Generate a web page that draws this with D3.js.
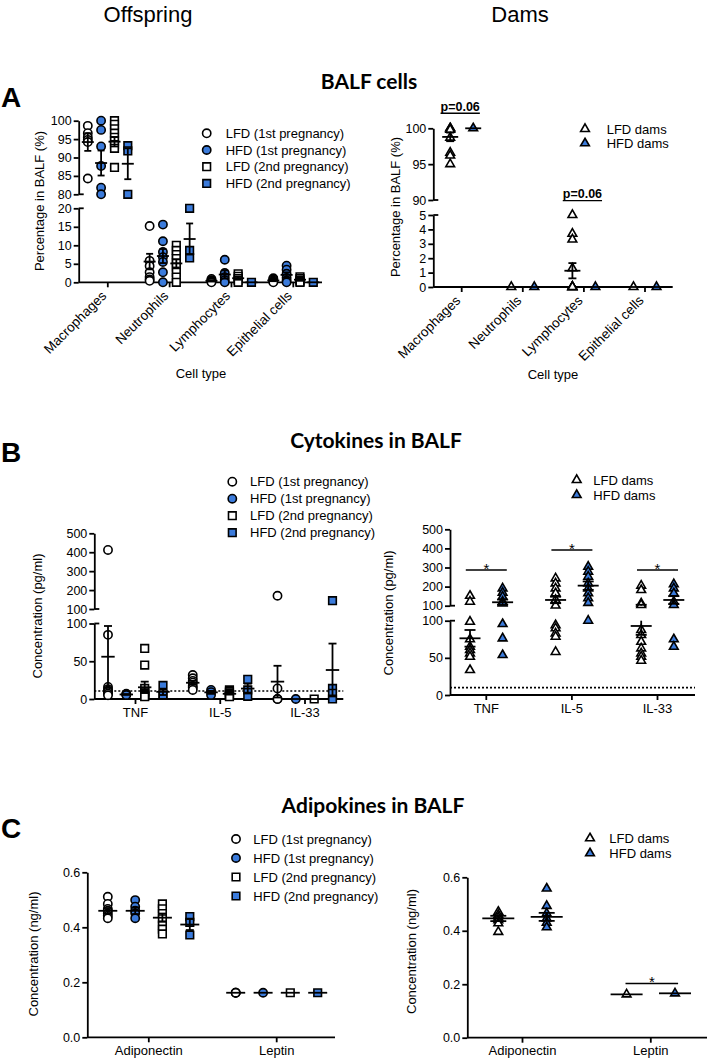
<!DOCTYPE html>
<html><head><meta charset="utf-8">
<script src="https://cdn.jsdelivr.net/npm/d3@7"></script>
<style>
body{margin:0;background:#fff}
svg{display:block}
text{font-family:"Liberation Sans",Arial,sans-serif;fill:#000}
</style>
</head><body>
<svg id="c" width="708" height="1059"></svg>
<script>
// ================= DATA =================
const columnHeaders = ["Offspring", "Dams"];
const panelLetters = ["A", "B", "C"];
const panelTitles = ["BALF cells", "Cytokines in BALF", "Adipokines in BALF"];
const offspringGroups = ["LFD (1st pregnancy)", "HFD (1st pregnancy)", "LFD (2nd pregnancy)", "HFD (2nd pregnancy)"];
const damGroups = ["LFD dams", "HFD dams"];
const cellTypes = ["Macrophages", "Neutrophils", "Lymphocytes", "Epithelial cells"];
const cytokines = ["TNF", "IL-5", "IL-33"];
const adipokines = ["Adiponectin", "Leptin"];

// tick labels
const cellOffTicksLow = [0, 5, 10, 15, 20];
const cellOffTicksHigh = [80, 85, 90, 95, 100];
const cellDamTicksLow = [0, 1, 2, 3, 4, 5];
const cellDamTicksHigh = [90, 95, 100];
const cytoTicksLow = [0, 50, 100];
const cytoTicksHigh = [100, 200, 300, 400, 500];
const adipoTicks = [0.0, 0.2, 0.4, 0.6];

// Panel A – BALF cells, offspring (%), per cell type
const cellsOffLFD1 = [[98.6, 96.6, 95.5, 94.8, 94.2, 84.3], [15.2, 5.8, 4.4, 2.7, 1.4, 0.8, 0.4], [0.9, 0.6, 0.4, 0.2, 0], [1.1, 0.8, 0.5, 0.2, 0]];
const cellsOffLFD1Mean = [94.2, 5.6, 0.4, 0.5];
const cellsOffLFD1Sem = [2.4, 2.1, 0.2, 0.2];
const cellsOffHFD1 = [[100, 97.5, 93, 87.7, 81.8, 80], [15.6, 11.1, 8.2, 6.8, 5.5, 2.7, 0], [6.1, 2.5, 1.4, 0.6, 0], [4.5, 3.4, 2.3, 1.2, 0.5, 0]];
const cellsOffHFD1Mean = [88.5, 7.1, 2.1, 2.0];
const cellsOffHFD1Sem = [3.4, 1.9, 1.1, 0.7];
const cellsOffLFD2 = [[100, 99, 97.8, 96.6, 95.5, 94.5, 93.5, 92.5, 87.3], [10, 8.6, 7.5, 6.4, 5.2, 4.1, 2.7, 1.4, 0], [2.3, 1.6, 1.0, 0.5, 0], [1.5, 1.0, 0.6, 0.2, 0]];
const cellsOffLFD2Mean = [94.3, 5.1, 1.1, 0.7];
const cellsOffLFD2Sem = [1.3, 1.1, 0.4, 0.3];
const cellsOffHFD2 = [[93.2, 91.8, 80], [20, 8.6, 6.6], [0], [0]];
const cellsOffHFD2Mean = [88.3, 11.7, 0, 0];
const cellsOffHFD2Sem = [4.2, 4.2, 0, 0];

// Panel A – BALF cells, dams (%)
const cellsDamLFD = [[100, 100, 99.8, 98.7, 96.6, 96.2, 95], [0], [5, 3.7, 3.3, 1.3, 0, 0, 0, 0, 0], [0]];
const cellsDamLFDMean = [98.8, 0, 1.13, 0];
const cellsDamLFDSem = [0.6, 0, 0.53, 0];
const cellsDamHFD = [[100], [0], [0], [0]];
const cellsDamHFDMean = [100, 0, 0, 0];
const cellsDamHFDSem = [0, 0, 0, 0];
const cellSigCats = ["Macrophages", "Lymphocytes"];
const cellSigLevels = [102.1, 6.0];
const cellSigSegments = [1, 0];
const cellSigLabels = ["p=0.06", "p=0.06"];

// Panel B – cytokines, offspring (pg/ml)
const cytoOffLFD1 = [[412, 85, 16, 13, 11, 9, 7, 5], [31.8, 27.4, 24, 21.6, 17.2, 15, 12], [170, 14, 0, 0]];
const cytoOffLFD1Mean = [56, 21.5, 23];
const cytoOffLFD1Sem = [40.7, 2.5, 21];
const cytoOffHFD1 = [[7, 6, 5.3], [12, 9, 5.3], [0]];
const cytoOffHFD1Mean = [6, 8.8, 0];
const cytoOffHFD1Sem = [0.5, 2, 0];
const cytoOffLFD2 = [[67, 45, 14, 10, 8, 6, 5, 4, 3], [12, 10, 8, 6, 5, 4, 3], [0]];
const cytoOffLFD2Mean = [15.5, 6.9, 0];
const cytoOffLFD2Sem = [7.5, 1.1, 0];
const cytoOffHFD2 = [[18, 5.3, 5.3], [26, 12, 3.5], [144, 14, 7.5, 0]];
const cytoOffHFD2Mean = [9.5, 13.8, 38.4];
const cytoOffHFD2Sem = [4.2, 6.5, 35];
const cytoLimitOff = 10.5;

// Panel B – cytokines, dams (pg/ml)
const cytoDamLFD = [[152, 121, 98.6, 75, 65, 60.5, 56, 51.5, 33.6], [243, 217, 191, 165, 130, 101, 94, 89.8, 83, 78.5, 58], [205, 182, 112, 104, 87.5, 80.8, 71.7, 62.8, 56, 51.5, 46.2]];
const cytoDamLFDMean = [76.3, 130, 92.9];
const cytoDamLFDSem = [11.2, 17, 12];
const cytoDamHFD = [[191, 168, 147, 121, 112, 95.5, 76.3, 53.8], [304, 278, 252, 217, 191, 165, 139, 115, 100], [213, 191, 165, 121, 104, 75, 65]];
const cytoDamHFDMean = [118, 205, 130];
const cytoDamHFDSem = [14, 22, 20];
const cytoLimitDam = 9.9;
const cytoSigCats = ["TNF", "IL-5", "IL-33"];
const cytoSigLevels = [287, 392, 287];
const cytoSigSegments = [1, 1, 1];
const cytoSigLabels = ["*", "*", "*"];

// Panel C – adipokines, offspring (ng/ml)
const adipoOffLFD1 = [[0.511, 0.485, 0.467, 0.46, 0.451, 0.442, 0.433], [0.162, 0.162, 0.162]];
const adipoOffLFD1Mean = [0.46, 0.162];
const adipoOffLFD1Sem = [0.01, 0];
const adipoOffHFD1 = [[0.499, 0.475, 0.46, 0.451, 0.433], [0.162]];
const adipoOffHFD1Mean = [0.46, 0.162];
const adipoOffHFD1Sem = [0.012, 0];
const adipoOffLFD2 = [[0.485, 0.467, 0.45, 0.431, 0.408, 0.393, 0.376], [0.162]];
const adipoOffLFD2Mean = [0.435, 0.162];
const adipoOffLFD2Sem = [0.015, 0];
const adipoOffHFD2 = [[0.439, 0.418, 0.372], [0.162]];
const adipoOffHFD2Mean = [0.41, 0.162];
const adipoOffHFD2Sem = [0.02, 0];

// Panel C – adipokines, dams (ng/ml)
const adipoDamLFD = [[0.471, 0.459, 0.45, 0.44, 0.428, 0.396], [0.162]];
const adipoDamLFDMean = [0.446, 0.162];
const adipoDamLFDSem = [0.01, 0];
const adipoDamHFD = [[0.558, 0.493, 0.465, 0.446, 0.43, 0.413], [0.166]];
const adipoDamHFDMean = [0.452, 0.166];
const adipoDamHFDSem = [0.015, 0];
const adipoSigCats = ["Leptin"];
const adipoSigLevels = [0.203];
const adipoSigSegments = [0];
const adipoSigLabels = ["*"];

// ================= DRAWING =================
const BLUE = "#3b7bdb";
const svg = d3.select("#c");
const SW = 1.8;

const offStyles = [
  {shape: d3.symbolCircle, size: 54, fill: "#fff"},
  {shape: d3.symbolCircle, size: 54, fill: BLUE},
  {shape: d3.symbolSquare, size: 58, fill: "#fff"},
  {shape: d3.symbolSquare, size: 58, fill: BLUE}
];
const damStyles = [
  {shape: d3.symbolTriangle, size: 33, fill: "#fff"},
  {shape: d3.symbolTriangle, size: 33, fill: BLUE}
];

function buildGroups(styles, vals, means, sems) {
  return styles.map((s, i) => Object.assign({}, s, {values: vals[i], mean: means[i], sem: sems[i]}));
}

function drawPanel(cfg) {
  const g = svg.append("g");
  const segs = cfg.segs;
  segs.forEach(s => s.scale = d3.scaleLinear().domain(s.domain).range(s.range));
  const yOf = v => {
    let i = segs.length - 1;
    while (i > 0 && !(v > segs[i - 1].domain[1])) i--;
    return segs[i].scale(v);
  };
  const x = d3.scalePoint().domain(cfg.cats).range(cfg.catRange).padding(0);
  const ax = cfg.axisX;
  const yBase = segs[0].range[0];

  segs.forEach((s, i) => {
    const axis = d3.axisLeft(s.scale).tickValues(s.ticks).tickSize(5).tickSizeOuter(0)
      .tickPadding(2).tickFormat(cfg.fmt || d3.format("d"));
    const ga = g.append("g").attr("transform", `translate(${ax},0)`).call(axis);
    ga.select(".domain").attr("stroke-width", SW).attr("stroke", "#000");
    ga.selectAll(".tick line").attr("stroke-width", SW).attr("stroke", "#000");
    ga.selectAll(".tick text").style("font-family", '"Liberation Sans", Arial, sans-serif')
      .style("font-size", "12.5px").attr("fill", "#000");
    if (segs.length > 1) {
      const ends = [];
      if (i > 0) ends.push(s.domain[0]);
      if (i < segs.length - 1) ends.push(s.domain[1]);
      ends.forEach(v => g.append("line").attr("x1", ax).attr("x2", ax + 5)
        .attr("y1", s.scale(v)).attr("y2", s.scale(v)).attr("stroke", "#000").attr("stroke-width", SW));
    }
  });
  g.append("line").attr("x1", ax).attr("x2", cfg.xEnd).attr("y1", yBase).attr("y2", yBase)
    .attr("stroke", "#000").attr("stroke-width", SW);
  g.selectAll(".xt").data(cfg.cats).join("line")
    .attr("x1", d => x(d)).attr("x2", d => x(d)).attr("y1", yBase).attr("y2", yBase + 5)
    .attr("stroke", "#000").attr("stroke-width", SW);
  if (cfg.rotate) {
    g.selectAll(".xl").data(cfg.cats).join("text")
      .attr("transform", d => `translate(${x(d) - 3.8},${yBase + 11})rotate(-45)`)
      .attr("text-anchor", "end").attr("dy", "0.35em").attr("fill", "#000").style("font-size", "13.5px").text(d => d);
  } else {
    g.selectAll(".xl").data(cfg.cats).join("text")
      .attr("x", d => x(d)).attr("y", yBase + 17.5)
      .attr("text-anchor", "middle").attr("fill", "#000").style("font-size", "13px").text(d => d);
  }
  if (cfg.limit !== undefined) {
    g.append("line").attr("x1", ax).attr("x2", cfg.xEnd).attr("y1", yOf(cfg.limit)).attr("y2", yOf(cfg.limit))
      .attr("stroke", "#000").attr("stroke-width", 1.6).attr("stroke-dasharray", "2,2");
  }
  cfg.groups.forEach((gr, gi) => {
    const sym = d3.symbol().type(gr.shape).size(gr.size);
    cfg.cats.forEach((c, ci) => {
      const cx = x(c) + cfg.offsets[gi];
      g.selectAll(null).data(gr.values[ci]).join("path")
        .attr("d", sym).attr("transform", d => `translate(${cx},${yOf(d)})`)
        .attr("fill", gr.fill).attr("stroke", "#000").attr("stroke-width", 1.6);
    });
  });
  cfg.groups.forEach((gr, gi) => {
    cfg.cats.forEach((c, ci) => {
      const cx = x(c) + cfg.offsets[gi];
      const m = gr.mean[ci], s = gr.sem[ci];
      const lo = m - s, hi = m + s;
      if (s > 0) {
        segs.forEach(sg => {
          const a = Math.max(lo, sg.domain[0]), b = Math.min(hi, sg.domain[1]);
          if (a < b) g.append("line").attr("x1", cx).attr("x2", cx)
            .attr("y1", sg.scale(a)).attr("y2", sg.scale(b)).attr("stroke", "#000").attr("stroke-width", SW);
        });
        [lo, hi].forEach(v => g.append("line").attr("x1", cx - cfg.capW).attr("x2", cx + cfg.capW)
          .attr("y1", yOf(Math.max(v, 0))).attr("y2", yOf(Math.max(v, 0))).attr("stroke", "#000").attr("stroke-width", SW));
      }
      g.append("line").attr("x1", cx - cfg.meanW).attr("x2", cx + cfg.meanW)
        .attr("y1", yOf(m)).attr("y2", yOf(m)).attr("stroke", "#000").attr("stroke-width", SW);
    });
  });
  if (cfg.sig) {
    cfg.sig.cats.forEach((c, i) => {
      const yy = segs[cfg.sig.segs[i]].scale(cfg.sig.levels[i]);
      const cx = x(c) + (cfg.sig.shift || 0);
      if (cfg.sig.labels[i] === "*") {
        g.append("line").attr("x1", cx - cfg.sig.half).attr("x2", cx + cfg.sig.half)
          .attr("y1", yy).attr("y2", yy).attr("stroke", "#000").attr("stroke-width", 1.6);
        g.append("text").attr("x", cx).attr("y", yy + 4).attr("text-anchor", "middle").attr("fill", "#000")
          .style("font-size", "15px").text("*");
      } else {
        const t = g.append("text").attr("x", cx).attr("y", yy - 2.5).attr("text-anchor", "middle").attr("fill", "#000")
          .style("font-size", "12.5px").style("font-weight", "bold").text(cfg.sig.labels[i]);
        const w = t.node().getComputedTextLength();
        g.append("line").attr("x1", cx - w / 2).attr("x2", cx + w / 2)
          .attr("y1", yy).attr("y2", yy).attr("stroke", "#000").attr("stroke-width", 1.4);
      }
    });
  }
  g.append("text").attr("transform", `translate(${cfg.yLabelPos[0]},${cfg.yLabelPos[1]}) rotate(-90)`)
    .attr("text-anchor", "middle").attr("dy", "0.35em").attr("fill", "#000").style("font-size", "13px").text(cfg.yLabel);
  if (cfg.xTitle) {
    g.append("text").attr("x", cfg.xTitlePos[0]).attr("y", cfg.xTitlePos[1]).attr("text-anchor", "middle")
      .attr("fill", "#000").style("font-size", "13px").text(cfg.xTitle);
  }
  const L = cfg.legend;
  cfg.groups.forEach((gr, i) => {
    const yy = L.y0 + i * L.step;
    g.append("path").attr("d", d3.symbol().type(gr.shape).size(gr.size)).attr("transform", `translate(${L.x},${yy})`)
      .attr("fill", gr.fill).attr("stroke", "#000").attr("stroke-width", 1.6);
    g.append("text").attr("x", L.tx).attr("y", yy).attr("dy", "0.36em").attr("fill", "#000")
      .style("font-size", "13px").text(L.names[i]);
  });
}

svg.selectAll(".hdr").data(columnHeaders).join("text")
  .attr("x", (d, i) => [148, 520][i]).attr("y", 22).attr("text-anchor", "middle")
  .style("font-size", "22px").text(d => d);
svg.selectAll(".let").data(panelLetters).join("text")
  .attr("x", 1).attr("y", (d, i) => [107, 462, 838][i])
  .style("font-size", "28px").style("font-weight", "bold").text(d => d);
svg.selectAll(".ttl").data(panelTitles).join("text")
  .attr("x", (d, i) => [369, 376, 373][i]).attr("y", (d, i) => [89, 448, 813][i]).attr("text-anchor", "middle")
  .style("font-family", "Lato, 'Open Sans', sans-serif").style("font-size", "21px").style("font-weight", "bold").text(d => d);

drawPanel({
  segs: [{domain: [0, 20], range: [282.3, 208.3], ticks: cellOffTicksLow}, {domain: [80, 100], range: [194.3, 120.7], ticks: cellOffTicksHigh}],
  axisX: 78.7, xEnd: 322, cats: cellTypes, catRange: [107.8, 293.3], offsets: [-20, -6.7, 6.7, 20],
  groups: buildGroups(offStyles,
    [cellsOffLFD1, cellsOffHFD1, cellsOffLFD2, cellsOffHFD2],
    [cellsOffLFD1Mean, cellsOffHFD1Mean, cellsOffLFD2Mean, cellsOffHFD2Mean],
    [cellsOffLFD1Sem, cellsOffHFD1Sem, cellsOffLFD2Sem, cellsOffHFD2Sem]),
  meanW: 6, capW: 3.5, rotate: true,
  yLabel: "Percentage in BALF (%)", yLabelPos: [39, 201], xTitle: "Cell type", xTitlePos: [201, 378],
  legend: {x: 206.7, tx: 225.7, y0: 133.3, step: 16.7, names: offspringGroups}
});
drawPanel({
  segs: [{domain: [0, 5], range: [287, 215], ticks: cellDamTicksLow}, {domain: [90, 100], range: [200, 128.3], ticks: cellDamTicksHigh}],
  axisX: 433.3, xEnd: 672.7, cats: cellTypes, catRange: [461.7, 645], offsets: [-11.5, 11.5],
  groups: buildGroups(damStyles, [cellsDamLFD, cellsDamHFD], [cellsDamLFDMean, cellsDamHFDMean], [cellsDamLFDSem, cellsDamHFDSem]),
  meanW: 8, capW: 4, rotate: true,
  sig: {cats: cellSigCats, levels: cellSigLevels, segs: cellSigSegments, labels: cellSigLabels, shift: -1.5},
  yLabel: "Percentage in BALF (%)", yLabelPos: [395, 207], xTitle: "Cell type", xTitlePos: [553, 379],
  legend: {x: 585, tx: 606.7, y0: 129, step: 14.3, names: damGroups}
});
drawPanel({
  segs: [{domain: [0, 100], range: [699, 623.5], ticks: cytoTicksLow}, {domain: [100, 500], range: [609, 533.3], ticks: cytoTicksHigh}],
  axisX: 94.3, xEnd: 343.3, cats: cytokines, catRange: [135.5, 305], offsets: [-27.5, -9.2, 9.2, 27.5],
  groups: buildGroups(offStyles,
    [cytoOffLFD1, cytoOffHFD1, cytoOffLFD2, cytoOffHFD2],
    [cytoOffLFD1Mean, cytoOffHFD1Mean, cytoOffLFD2Mean, cytoOffHFD2Mean],
    [cytoOffLFD1Sem, cytoOffHFD1Sem, cytoOffLFD2Sem, cytoOffHFD2Sem]),
  meanW: 6.7, capW: 4, limit: cytoLimitOff,
  yLabel: "Concentration (pg/ml)", yLabelPos: [37.5, 616],
  legend: {x: 232.3, tx: 250, y0: 481.7, step: 17, names: offspringGroups}
});
drawPanel({
  segs: [{domain: [0, 100], range: [695, 620.7], ticks: cytoTicksLow}, {domain: [100, 500], range: [605.7, 529.3], ticks: cytoTicksHigh}],
  axisX: 450, xEnd: 695, cats: cytokines, catRange: [486.3, 657.5], offsets: [-16.3, 16.3],
  groups: buildGroups(damStyles, [cytoDamLFD, cytoDamHFD], [cytoDamLFDMean, cytoDamHFDMean], [cytoDamLFDSem, cytoDamHFDSem]),
  meanW: 10.5, capW: 5.5, limit: cytoLimitDam,
  sig: {cats: cytoSigCats, levels: cytoSigLevels, segs: cytoSigSegments, labels: cytoSigLabels, half: 20.5, shift: 0},
  yLabel: "Concentration (pg/ml)", yLabelPos: [388, 613],
  legend: {x: 576.7, tx: 593.3, y0: 480, step: 15, names: damGroups}
});
drawPanel({
  segs: [{domain: [0, 0.6], range: [1037.3, 872.3], ticks: adipoTicks}],
  axisX: 87.3, xEnd: 335, cats: adipokines, catRange: [148.8, 276.7], offsets: [-41, -13.6, 13.6, 41],
  fmt: d3.format(".1f"),
  groups: buildGroups(offStyles,
    [adipoOffLFD1, adipoOffHFD1, adipoOffLFD2, adipoOffHFD2],
    [adipoOffLFD1Mean, adipoOffHFD1Mean, adipoOffLFD2Mean, adipoOffHFD2Mean],
    [adipoOffLFD1Sem, adipoOffHFD1Sem, adipoOffLFD2Sem, adipoOffHFD2Sem]),
  meanW: 9.5, capW: 4,
  yLabel: "Concentration (ng/ml)", yLabelPos: [33, 954],
  legend: {x: 236, tx: 253.3, y0: 839, step: 19, names: offspringGroups}
});
drawPanel({
  segs: [{domain: [0, 0.6], range: [1037.7, 877.3], ticks: adipoTicks}],
  axisX: 467.3, xEnd: 707, cats: adipokines, catRange: [522.5, 650.8], offsets: [-24.2, 24.2],
  fmt: d3.format(".1f"),
  groups: buildGroups(damStyles, [adipoDamLFD, adipoDamHFD], [adipoDamLFDMean, adipoDamHFDMean], [adipoDamLFDSem, adipoDamHFDSem]),
  meanW: 16, capW: 8,
  sig: {cats: adipoSigCats, levels: adipoSigLevels, segs: adipoSigSegments, labels: adipoSigLabels, half: 26.3, shift: 1},
  yLabel: "Concentration (ng/ml)", yLabelPos: [411, 951.5],
  legend: {x: 590, tx: 609.3, y0: 838.3, step: 15, names: damGroups}
});
</script>
</body></html>
